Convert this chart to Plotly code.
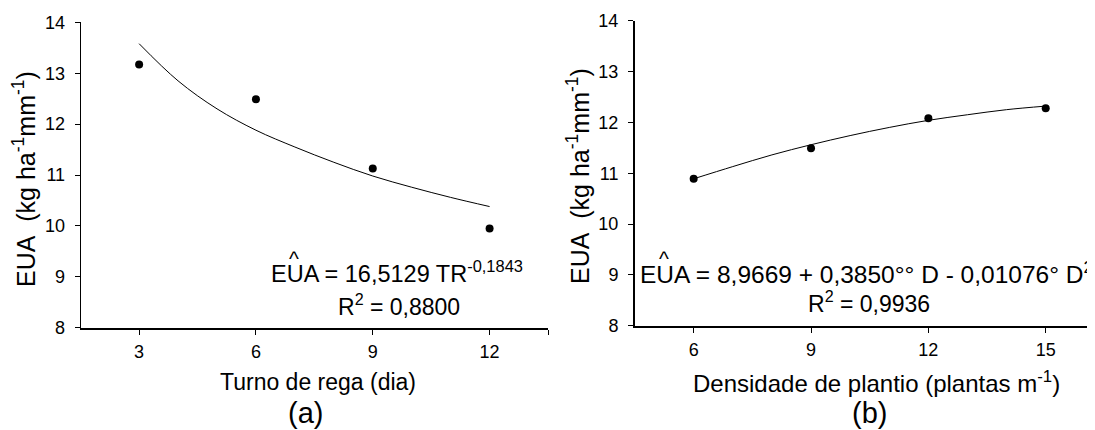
import plotly.graph_objects as go

W, H = 1095, 430
# the page body adds an 8px margin; positions below are in page pixels
OX, OY = 8, 8

# ---- data (a) ----
turno = [3, 6, 9, 12]
eua_a = [13.17, 12.49, 11.13, 9.95]
curve_a_x = [3, 4, 5, 6, 7, 8, 9, 10, 11, 12]
curve_a_y = [13.58, 12.85, 12.30, 11.88, 11.55, 11.25, 10.98, 10.76, 10.56, 10.38]
ticks_a = [3, 6, 9, 12]

# ---- data (b) ----
dens = [6, 9, 12, 15]
eua_b = [10.89, 11.49, 12.08, 12.28]
curve_b_x = [6, 7, 8, 9, 10, 11, 12, 13, 14, 15]
curve_b_y = [10.89, 11.13, 11.36, 11.56, 11.74, 11.90, 12.04, 12.15, 12.25, 12.32]
ticks_b = [6, 9, 12, 15]

y_ticks = [8, 9, 10, 11, 12, 13, 14]

FONT = "Liberation Sans, Arial, sans-serif"

def px(x):
    return (x - OX) / W

def py(y):
    return 1 - (y - OY) / H

fig = go.Figure()
fig.add_trace(go.Scatter(x=curve_a_x, y=curve_a_y, mode="lines", line=dict(color="black", width=1, shape="spline"),
                         xaxis="x", yaxis="y", showlegend=False, hoverinfo="skip"))
fig.add_trace(go.Scatter(x=turno, y=eua_a, mode="markers", marker=dict(color="black", size=8),
                         xaxis="x", yaxis="y", showlegend=False))
fig.add_trace(go.Scatter(x=curve_b_x, y=curve_b_y, mode="lines", line=dict(color="black", width=1, shape="spline"),
                         xaxis="x2", yaxis="y2", showlegend=False, hoverinfo="skip"))
fig.add_trace(go.Scatter(x=dens, y=eua_b, mode="markers", marker=dict(color="black", size=8),
                         xaxis="x2", yaxis="y2", showlegend=False))

common_x = dict(showgrid=False, zeroline=False, showline=True, linecolor="black", linewidth=2,
                ticks="outside", ticklen=5, tickwidth=1, tickcolor="black", automargin=False,
                tickfont=dict(family=FONT, size=18, color="black"), ticklabelstandoff=2)
common_y = dict(showgrid=False, zeroline=False, showline=True, linecolor="black", automargin=False,
                ticks="outside", ticklen=5, tickwidth=1, tickcolor="black",
                tickvals=y_ticks, range=[8, 14],
                tickfont=dict(family=FONT, size=18, color="black"), ticklabelstandoff=6)

fig.update_layout(
    template="none",
    width=W, height=H,
    margin=dict(l=0, r=0, t=0, b=0, pad=0),
    paper_bgcolor="white", plot_bgcolor="white",
    font=dict(family=FONT, color="black"),
    xaxis=dict(domain=[px(80.7), px(548)], range=[1.5, 13.5], anchor="y",
               tickvals=ticks_a + [13.5], ticktext=[str(t) for t in ticks_a] + [""], **common_x),
    yaxis=dict(domain=[py(327.7), py(22.3)], anchor="x", linewidth=1, **common_y),
    xaxis2=dict(domain=[px(635), px(1095)], range=[4.5, 16.26], anchor="y2",
                tickvals=ticks_b, ticktext=[str(t) for t in ticks_b], **common_x),
    yaxis2=dict(domain=[py(325.7), py(20.7)], anchor="x2", linewidth=2, **common_y),
)

def ann(text, x, y, size, xanchor="center", yanchor="middle", angle=0):
    fig.add_annotation(text=text, x=px(x), y=py(y), xref="paper", yref="paper",
                       showarrow=False, xanchor=xanchor, yanchor=yanchor, textangle=angle,
                       font=dict(family=FONT, size=size, color="black"))

# axis titles
ann("Turno de rega (dia)", 318, 382, 23)
ann("Densidade de plantio (plantas m<sup>-1</sup>)", 876, 382, 24)
ann("(a)", 306, 413, 29)
ann("(b)", 869, 413, 29)
ann("EUA\u00a0\u00a0(kg ha<sup>-1</sup>mm<sup>-1</sup>)", 24, 179, 25, angle=-90)
ann("EUA\u00a0\u00a0(kg ha<sup>-1</sup>mm<sup>-1</sup>)", 578, 176, 25, angle=-90)

# equations
ann("EUA = 16,5129 TR<sup>-0,1843</sup>", 269, 272, 23.5, xanchor="left")
ann("^", 294, 258, 21)
ann("R<sup>2</sup> = 0,8800", 399, 305, 23)
ann("EUA = 8,9669 + 0,3850°° D - 0,01076° D<sup>2</sup>", 638, 272, 24.5, xanchor="left")
ann("^", 664, 258, 21)
ann("R<sup>2</sup> = 0,9936", 869, 302, 23)

fig.write_html("out.html")
